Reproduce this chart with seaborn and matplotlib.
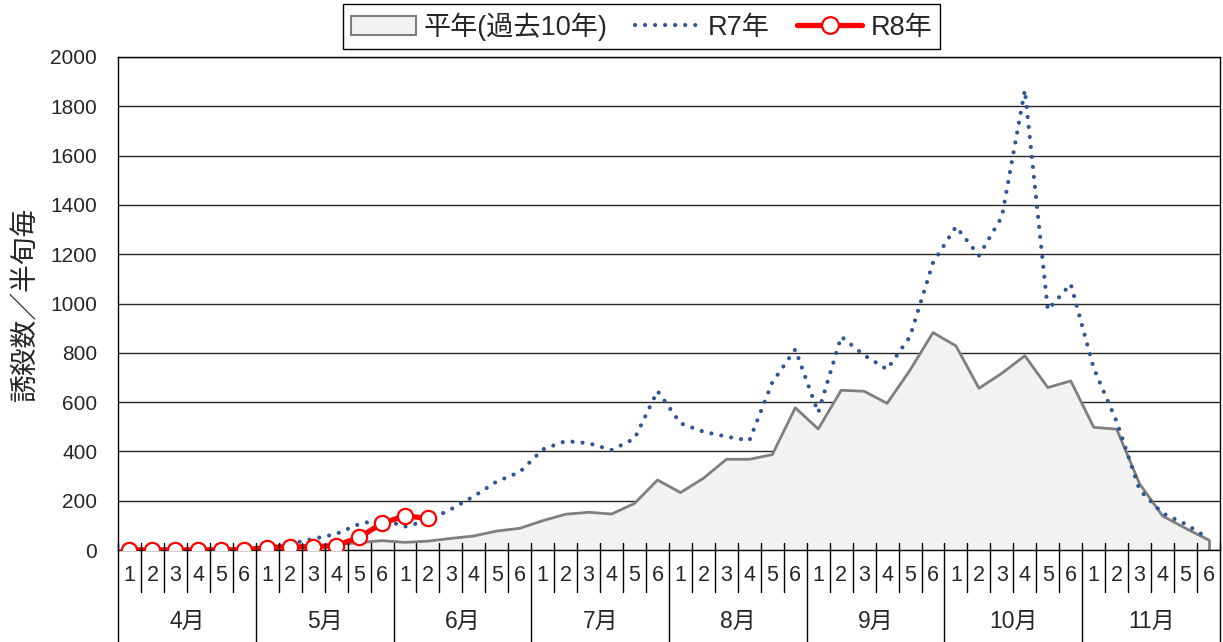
import matplotlib
matplotlib.use('Agg')
import matplotlib.pyplot as plt
import seaborn as sns
import numpy as np
import pandas as pd
from matplotlib.patches import Patch
from matplotlib.lines import Line2D
import matplotlib.transforms as mtransforms

sns.set_style('white')
plt.rcParams['font.family'] = ['Liberation Sans', 'Noto Sans CJK JP', 'DejaVu Sans']

# 半旬 (4月1半旬 ～ 11月6半旬)
months = ['4月', '5月', '6月', '7月', '8月', '9月', '10月', '11月']
hanjun = ['1', '2', '3', '4', '5', '6']

# 平年(過去10年)
heinen = [0, 1, 2, 3, 4, 6,
          8, 12, 16, 22, 30, 38,
          31, 36, 47, 57, 77, 88,
          119, 145, 153, 146, 189, 284,
          233, 291, 368, 368, 387, 577,
          491, 648, 644, 595, 730, 882,
          828, 656, 717, 788, 659, 686,
          498, 490, 268, 138, 88, 41]

# R7年
r7 = [0, 0, 0, 1, 2, 4,
      10, 25, 45, 65, 105, 125,
      95, 120, 165, 218, 278, 316,
      408, 442, 433, 406, 452, 645,
      514, 480, 460, 444, 680, 814,
      557, 866, 790, 733, 866, 1166,
      1312, 1194, 1352, 1866, 974, 1079,
      737, 521, 243, 149, 105, 47]

# R8年 (6月2半旬まで)
r8 = [0, 0, 0, 0, 0, 0,
      10, 13, 13, 18, 51, 108,
      139, 128]

n = len(months) * len(hanjun)
x = np.arange(n)
tick_labels = hanjun * len(months)

df = pd.DataFrame({'x': x, '平年': heinen, 'R7': r7})
df8 = pd.DataFrame({'x': np.arange(len(r8)), 'R8': r8})

fig = plt.figure(figsize=(12.23, 6.42), dpi=100)
ax = fig.add_axes([118 / 1223, 1 - 550 / 642, 1102 / 1223, 493 / 642])

area_fc = '#f2f2f2'
area_ec = '#7f7f7f'
r7_col = '#2F5597'
r8_col = '#FF0000'
dot_style = (0, (0.01, 2.4))

ax.fill_between(df['x'], 0, df['平年'], color=area_fc, zorder=1)
sns.lineplot(data=df, x='x', y='平年', ax=ax, color=area_ec, lw=2, zorder=2, legend=False)
ax.plot([n - 1, n - 1], [0, heinen[-1]], color=area_ec, lw=2, zorder=2)

sns.lineplot(data=df, x='x', y='R7', ax=ax, color=r7_col, lw=3,
             linestyle=dot_style, dash_capstyle='round', zorder=3, legend=False)
sns.lineplot(data=df8, x='x', y='R8', ax=ax, color=r8_col, lw=3.8, zorder=4,
             marker='o', markersize=11, markerfacecolor='white',
             markeredgecolor=r8_col, markeredgewidth=1.6, legend=False)

ax.set_xlim(-0.5, n - 0.5)
ax.set_ylim(0, 2000)
ax.set_yticks(range(0, 2001, 200))
ax.yaxis.grid(True, color='#262626', lw=1.0)
ax.set_axisbelow(True)
ax.tick_params(axis='y', length=0, pad=15, labelsize=15)

ax.set_xticks(x)
ax.set_xticklabels(tick_labels)
ax.tick_params(axis='x', length=0, pad=11, labelsize=15.5)
ax.set_xlabel('')
ax.set_ylabel('誘殺数／半旬毎', fontsize=20)
ax.yaxis.set_label_coords(-(118 - 40) / 1102, 0.5)

for s in ax.spines.values():
    s.set_color('black')
    s.set_linewidth(1.0)

# category separators below the axis
trans = mtransforms.blended_transform_factory(ax.transData, ax.transAxes)
top_y = 7 / 493
minor_bot = -(592 - 550) / 493
major_bot = -(642 - 550) / 493
for k in range(n + 1):
    b = k - 0.5
    bot = major_bot if k % 6 == 0 else minor_bot
    ax.plot([b, b], [top_y, bot], color='black', lw=1.0, transform=trans,
            clip_on=False, zorder=5)

for m, name in enumerate(months):
    ax.text(m * 6 + 2.5, -(621 - 550) / 493, name, transform=trans,
            ha='center', va='center', fontsize=16.5)

handles = [
    Patch(facecolor=area_fc, edgecolor=area_ec, lw=1.5),
    Line2D([], [], color=r7_col, lw=3, linestyle=dot_style, dash_capstyle='round'),
    Line2D([], [], color=r8_col, lw=3.8, marker='o', markersize=12,
           markerfacecolor='white', markeredgecolor=r8_col, markeredgewidth=1.6),
]
labels = ['平年(過去10年)', 'R7年', 'R8年']
leg = fig.legend(handles, labels, loc='center', ncol=3,
                 bbox_to_anchor=(641.5 / 1223, 1 - 26.5 / 642),
                 fontsize=19.5, frameon=True, fancybox=False, framealpha=1,
                 edgecolor='black', handlelength=2.4, handletextpad=0.3,
                 columnspacing=1.0, borderpad=0.3)
leg.get_frame().set_linewidth(1.0)

fig.savefig('out.png', dpi=100)
